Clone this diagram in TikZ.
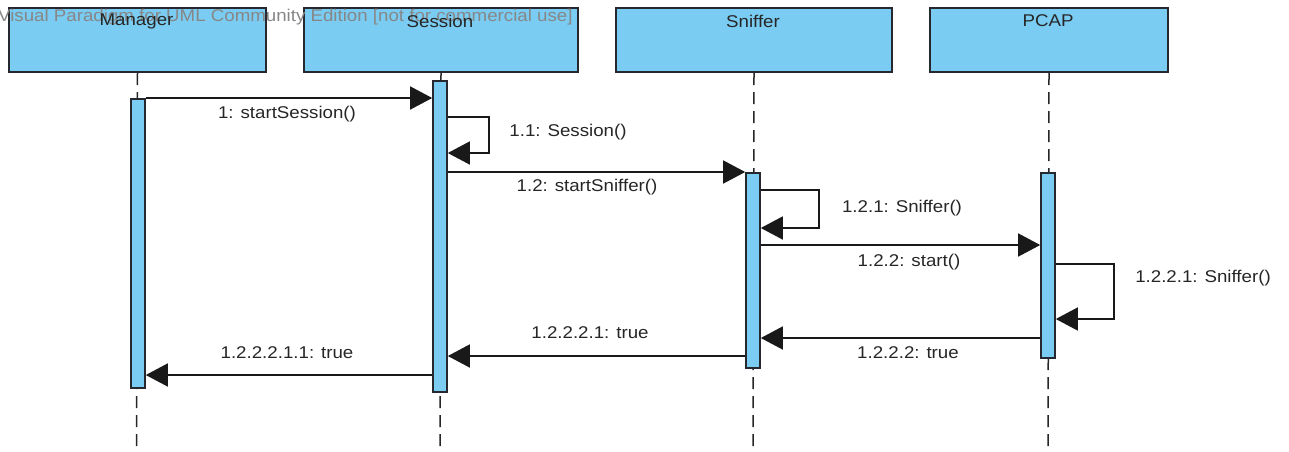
\documentclass[tikz,border=0pt]{standalone}
\usepackage{fontspec}
\setmainfont{Liberation Sans}
\newfontfamily\diagfont[FakeStretch=1.1]{Liberation Sans}
\usetikzlibrary{arrows.meta}
\definecolor{lifefill}{RGB}{122,204,242}
\definecolor{edgegray}{RGB}{38,40,48}
\definecolor{markgray}{RGB}{135,135,135}
\tikzset{
  head/.style={draw=edgegray, line width=2pt, fill=lifefill, anchor=north west,
    inner sep=0pt, minimum height=64pt},
  headtext/.style={font=\diagfont\fontsize{17}{20}\selectfont, text=black!85},
  actbar/.style={draw=edgegray, line width=1.6pt, fill=lifefill, anchor=north,
    minimum width=14pt, inner sep=0pt},
  lifeline/.style={draw=black!85, line width=1.5pt, dash pattern=on 12pt off 7pt},
  msg/.style={draw=black!90, line width=1.5pt, -{Triangle[length=22pt,width=23pt]}},
  msgtext/.style={font=\diagfont\fontsize{17}{20}\selectfont, text=black!85, inner sep=0pt}
}
\begin{document}
\begin{tikzpicture}[x=1pt, y=-1pt]
\useasboundingbox (0,0) rectangle (1289,451);

% lifeline heads
\node[head, minimum width=257pt] (mgr) at (8,7) {};
\node[head, minimum width=274pt] (ses) at (303,7) {};
\node[head, minimum width=276pt] (snf) at (615,7) {};
\node[head, minimum width=238pt] (pcp) at (929,7) {};

% editor watermark across the top, under the head titles
\node[font=\diagfont\fontsize{17}{20}\selectfont, text=markgray, anchor=west, inner sep=0pt]
  (mark) at (-2,17) {Visual Paradigm for UML Community Edition [not for commercial use]};

\node[headtext] (mgrT) at (136.5,21) {Manager};
\node[headtext] (sesT) at (440,21) {Session};
\node[headtext] (snfT) at (753,21) {Sniffer};
\node[headtext] (pcpT) at (1048,21) {PCAP};

% dashed lifelines down to the bottom edge
\coordinate (mgrEnd) at (136.5,451);
\coordinate (sesEnd) at (440,451);
\coordinate (snfEnd) at (753,451);
\coordinate (pcpEnd) at (1048,451);
\draw[lifeline] (mgr.south) -- (mgrEnd);
\draw[lifeline] (ses.south) -- (sesEnd);
\draw[lifeline] (snf.south) -- (snfEnd);
\draw[lifeline] (pcp.south) -- (pcpEnd);

% activation bars
\node[actbar, minimum height=289pt] (mgrAct) at (138,98) {};
\node[actbar, minimum height=311pt] (sesAct) at (440,80) {};
\node[actbar, minimum height=195pt] (snfAct) at (753,172) {};
\node[actbar, minimum height=185pt] (pcpAct) at (1048,172) {};

% messages
\draw[msg] (mgrAct.east |- 0,98) -- (sesAct.west |- 0,98);
\node[msgtext] (m1) at (287,114) {1: startSession()};

\draw[msg] (sesAct.east |- 0,117) -- ++(41,0) |- (sesAct.east |- 0,153);
\node[msgtext] (m11) at (568,132) {1.1: Session()};

\draw[msg] (sesAct.east |- 0,172) -- (snfAct.west |- 0,172);
\node[msgtext] (m12) at (587,187) {1.2: startSniffer()};

\draw[msg] (snfAct.east |- 0,190) -- ++(58,0) |- (snfAct.east |- 0,228);
\node[msgtext] (m121) at (902,208) {1.2.1: Sniffer()};

\draw[msg] (snfAct.east |- 0,245) -- (pcpAct.west |- 0,245);
\node[msgtext] (m122) at (909,262) {1.2.2: start()};

\draw[msg] (pcpAct.east |- 0,264) -- ++(58,0) |- (pcpAct.east |- 0,319);
\node[msgtext] (m1221) at (1203,278) {1.2.2.1: Sniffer()};

\draw[msg] (pcpAct.west |- 0,338) -- (snfAct.east |- 0,338);
\node[msgtext] (m1222) at (908,353) {1.2.2.2: true};

\draw[msg] (snfAct.west |- 0,356) -- (sesAct.east |- 0,356);
\node[msgtext] (m12221) at (590,333) {1.2.2.2.1: true};

\draw[msg] (sesAct.west |- 0,375) -- (mgrAct.east |- 0,375);
\node[msgtext] (m122211) at (287,353) {1.2.2.2.1.1: true};
\end{tikzpicture}
\end{document}
